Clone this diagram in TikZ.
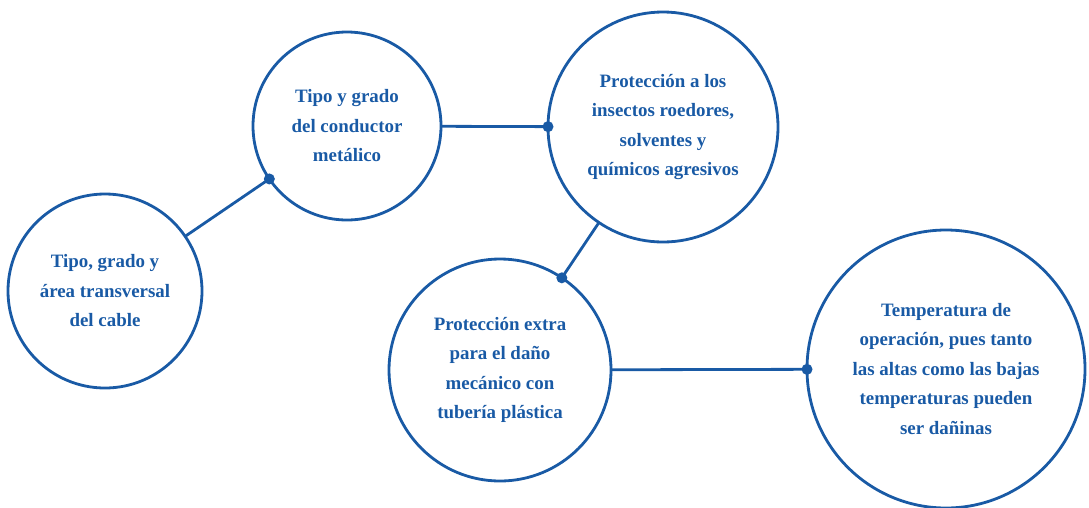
\documentclass[tikz,border=0pt]{standalone}
\usepackage{fontspec}
\setmainfont{Liberation Serif}
\definecolor{azul}{RGB}{25,90,165}

\begin{document}
\begin{tikzpicture}[x=1pt,y=-1pt,
  burbuja/.style={circle, draw=azul, line width=2.8pt, inner sep=0pt, outer sep=0pt, align=center, text=azul, font=\bfseries\fontsize{18.9}{29.5}\selectfont},
  enlace/.style={draw=azul, line width=2.8pt},
  punto/.style={circle, fill=azul, inner sep=0pt, minimum size=11pt}]
  \useasboundingbox (0,0) rectangle (1089,507);
  \node[burbuja, minimum size=194pt] (tipo) at (105,291) {Tipo, grado y\\área transversal\\del cable};
  \node[burbuja, minimum size=188pt] (conductor) at (347,126) {Tipo y grado\\del conductor\\metálico};
  \node[burbuja, minimum size=230pt] (insectos) at (663,127) {Protección a los\\insectos roedores,\\solventes y\\químicos agresivos};
  \node[burbuja, minimum size=222pt] (tuberia) at (500,370) {Protección extra\\para el daño\\mecánico con\\tubería plástica};
  \node[burbuja, minimum size=278pt] (temperatura) at (946,369) {Temperatura de\\operación, pues tanto\\las altas como las bajas\\temperaturas pueden\\ser dañinas};
  \draw[enlace] (tipo) -- (conductor) node[punto, pos=1]{};
  \draw[enlace] (conductor) -- (insectos) node[punto, pos=1]{};
  \draw[enlace] (insectos) -- (tuberia) node[punto, pos=1]{};
  \draw[enlace] (tuberia) -- (temperatura) node[punto, pos=1]{};
\end{tikzpicture}
\end{document}
